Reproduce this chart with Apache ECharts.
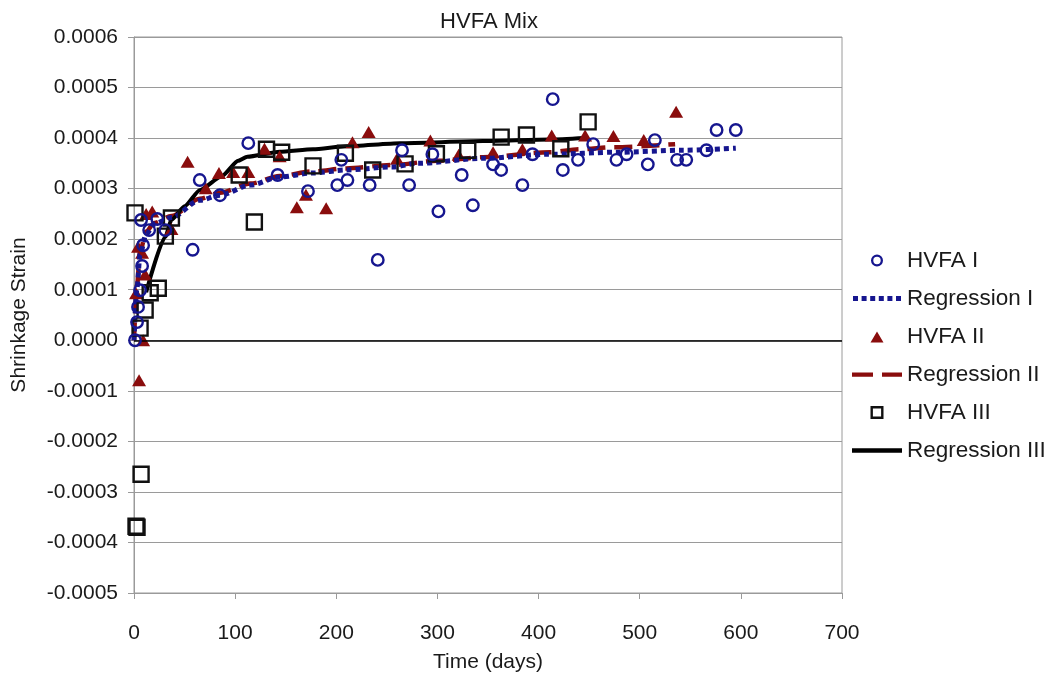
<!DOCTYPE html>
<html><head><meta charset="utf-8">
<script src="https://cdn.jsdelivr.net/npm/echarts@6/dist/echarts.min.js"></script>
<style>html,body{margin:0;padding:0;background:#fff}#c{width:1064px;height:680px}</style>
</head><body><div id="c"></div>
<script>
const chartTitle = 'HVFA Mix';
const xName = 'Time (days)';
const yName = 'Shrinkage Strain';
const seriesNames = ['HVFA I', 'Regression I', 'HVFA II', 'Regression II', 'HVFA III', 'Regression III'];

// [day, strain]
const hvfa1 = [[1,0],[3,0.36e-4],[4,0.66e-4],[6,0.99e-4],[8,1.47e-4],[9,1.88e-4],[7,2.38e-4],[23,2.40e-4],[15,2.18e-4],[31,2.18e-4],
  [58,1.79e-4],[65,3.17e-4],[85,2.87e-4],[113,3.90e-4],[142,3.27e-4],[172,2.95e-4],[201,3.07e-4],[205,3.57e-4],[211,3.17e-4],[233,3.07e-4],
  [241,1.59e-4],[265,3.76e-4],[272,3.07e-4],[295,3.68e-4],[301,2.55e-4],[324,3.27e-4],[335,2.67e-4],[355,3.48e-4],[363,3.37e-4],[384,3.07e-4],
  [394,3.68e-4],[414,4.77e-4],[424,3.37e-4],[439,3.57e-4],[454,3.88e-4],[477,3.57e-4],[487,3.68e-4],[508,3.48e-4],[515,3.96e-4],[537,3.57e-4],
  [546,3.57e-4],[566,3.76e-4],[576,4.16e-4],[595,4.16e-4]];
const reg1 = [[0,0],[3,1.05e-4],[6,1.7e-4],[12,2.1e-4],[20,2.3e-4],[37,2.43e-4],[65,2.77e-4],[85,2.87e-4],[115,3.07e-4],[144,3.23e-4],
  [177,3.31e-4],[210,3.37e-4],[256,3.43e-4],[280,3.5e-4],[345,3.6e-4],[411,3.68e-4],[477,3.72e-4],[543,3.76e-4],[595,3.8e-4]];
const hvfa2 = [[9,0],[5,-0.79e-4],[2,0.93e-4],[4,1.85e-4],[8,1.73e-4],[11,1.3e-4],[12,2.5e-4],[18,2.55e-4],[37,2.2e-4],[53,3.53e-4],
  [71,3.01e-4],[84,3.31e-4],[98,3.33e-4],[113,3.33e-4],[129,3.79e-4],[144,3.64e-4],[161,2.63e-4],[170,2.88e-4],[190,2.61e-4],[216,3.92e-4],
  [232,4.12e-4],[260,3.59e-4],[293,3.95e-4],[321,3.67e-4],[355,3.72e-4],[384,3.78e-4],[413,4.05e-4],[446,4.05e-4],[474,4.04e-4],[504,3.96e-4],[536,4.52e-4]];
const reg2 = [[0,0],[3,1.1e-4],[6,1.75e-4],[12,2.15e-4],[20,2.32e-4],[37,2.46e-4],[65,2.8e-4],[85,2.92e-4],[115,3.1e-4],[144,3.25e-4],
  [177,3.34e-4],[210,3.4e-4],[256,3.47e-4],[300,3.55e-4],[345,3.62e-4],[411,3.72e-4],[441,3.78e-4],[474,3.82e-4],[535,3.88e-4]];
const hvfa3 = [[1,2.52e-4],[2,-3.68e-4],[3,-3.70e-4],[7,-2.65e-4],[6,0.24e-4],[11,0.6e-4],[16,0.94e-4],[24,1.03e-4],[31,2.06e-4],[37,2.42e-4],
  [104,3.27e-4],[119,2.34e-4],[131,3.78e-4],[146,3.72e-4],[177,3.45e-4],[209,3.7e-4],[236,3.37e-4],[268,3.49e-4],[299,3.69e-4],[330,3.76e-4],
  [363,4.02e-4],[388,4.06e-4],[422,3.79e-4],[449,4.32e-4]];
const reg3 = [[12,0.95e-4],[31,2.05e-4],[37,2.38e-4],[50,2.65e-4],[65,2.97e-4],[87,3.25e-4],[103,3.55e-4],[112,3.63e-4],[144,3.73e-4],
  [177,3.78e-4],[210,3.84e-4],[263,3.9e-4],[345,3.94e-4],[411,3.97e-4],[446,4.0e-4]];

const xMin = 0, xMax = 700, xStep = 100;
const yMin = -0.0005, yMax = 0.0006, yStep = 0.0001;

const FONT = '"Liberation Sans", Arial, Helvetica, sans-serif';
const BLUE = '#16168f', RED = '#8a0d0d', BLACK = '#000000', GRID = '#9a9a9a', TXT = '#1a1a1a';

// legend icons (50 x 14 box; tiny corner specks fix the bounding box)
const box = 'M0,0h0.01v0.01h-0.01Z M49.99,13.99h0.01v0.01h-0.01Z ';
const icCircle = 'path://' + box + 'M19,7 A6,6 0 1,1 31,7 A6,6 0 1,1 19,7 Z M21.3,7 A3.7,3.7 0 1,0 28.7,7 A3.7,3.7 0 1,0 21.3,7 Z';
const icDotted = 'path://' + box + 'M1,4.5h5v5h-5Z M9.6,4.5h5v5h-5Z M18.2,4.5h5v5h-5Z M26.8,4.5h5v5h-5Z M35.4,4.5h5v5h-5Z M44,4.5h5v5h-5Z';
const icTri = 'path://' + box + 'M18.5,13 L31.5,13 L25,2 Z';
const icDashed = 'path://' + box + 'M0,5h21v4.2h-21Z M30,5h20v4.2h-20Z';
const icSquare = 'path://' + box + 'M18.5,0.5 h13 v13 h-13 Z M20.9,2.9 v8.2 h8.2 v-8.2 Z';
const icSolid = 'path://' + box + 'M0,4.7h50v4.6h-50Z';
const legIcons = [icCircle, icDotted, icTri, icDashed, icSquare, icSolid];
const legColors = [BLUE, BLUE, RED, RED, '#111', BLACK];

const chart = echarts.init(document.getElementById('c'), null, {renderer: 'canvas'});
chart.setOption({
  animation: false,
  backgroundColor: '#fff',
  textStyle: {fontFamily: FONT},
  title: {text: chartTitle, left: 484, textAlign: 'center', top: 6,
    textStyle: {fontFamily: FONT, fontSize: 22, fontWeight: 'normal', color: TXT}},
  grid: {left: 134, right: 222, top: 37, bottom: 87, show: true, borderColor: GRID, borderWidth: 1, containLabel: false},
  legend: {
    orient: 'vertical', left: 847, top: 244, itemWidth: 50, itemHeight: 14, itemGap: 15,
    selectedMode: false,
    textStyle: {fontFamily: FONT, fontSize: 22.5, color: TXT, lineHeight: 22},
    data: seriesNames.map((n, i) => ({
      name: n, icon: legIcons[i],
      itemStyle: {color: legColors[i], borderWidth: 0, borderColor: 'transparent', opacity: 1}
    }))
  },
  xAxis: {
    type: 'value', min: xMin, max: xMax, interval: xStep,
    name: xName, nameLocation: 'middle', nameGap: 59,
    nameTextStyle: {fontFamily: FONT, fontSize: 21, color: TXT},
    axisLine: {show: true, onZero: false, lineStyle: {color: GRID, width: 1}},
    axisTick: {show: true, inside: false, length: 6, lineStyle: {color: GRID}},
    axisLabel: {fontFamily: FONT, fontSize: 21, color: TXT, margin: 30},
    splitLine: {show: false}
  },
  yAxis: {
    type: 'value', min: yMin, max: yMax, interval: yStep,
    name: yName, nameLocation: 'middle', nameGap: 104, nameRotate: 90,
    nameTextStyle: {fontFamily: FONT, fontSize: 21, color: TXT},
    axisLine: {show: true, lineStyle: {color: GRID, width: 1}},
    axisTick: {show: true, inside: false, length: 6, lineStyle: {color: GRID}},
    axisLabel: {fontFamily: FONT, fontSize: 21, color: TXT, margin: 16,
      formatter: v => (Math.abs(v) < 1e-12 ? 0 : v).toFixed(4)},
    splitLine: {show: true, lineStyle: {color: GRID, width: 1}}
  },
  series: [
    {name: seriesNames[0], type: 'scatter', data: hvfa1, symbol: 'circle', symbolSize: 11.5, z: 5,
      itemStyle: {color: 'rgba(255,255,255,0)', borderColor: BLUE, borderWidth: 2.4, opacity: 1},
      markLine: {silent: true, symbol: ['none', 'none'], label: {show: false},
        lineStyle: {color: BLACK, width: 1.6, type: 'solid'}, data: [{yAxis: 0}]}},
    {name: seriesNames[1], type: 'line', data: reg1, symbol: 'none', smooth: 0.3, smoothMonotone: 'x', z: 4,
      itemStyle: {color: BLUE},
      lineStyle: {color: BLUE, width: 5, type: [5, 4]}},
    {name: seriesNames[2], type: 'scatter', data: hvfa2, symbol: 'triangle', symbolSize: [14, 12], z: 3,
      itemStyle: {color: RED, opacity: 1}},
    {name: seriesNames[3], type: 'line', data: reg2, symbol: 'none', smooth: 0.3, smoothMonotone: 'x', z: 3,
      itemStyle: {color: RED},
      lineStyle: {color: RED, width: 4.5, type: [18, 9]}},
    {name: seriesNames[4], type: 'scatter', data: hvfa3, symbol: 'rect', symbolSize: 15, z: 4,
      itemStyle: {color: 'rgba(255,255,255,0)', borderColor: '#111', borderWidth: 2.4, opacity: 1}},
    {name: seriesNames[5], type: 'line', data: reg3, symbol: 'none', smooth: 0.2, smoothMonotone: 'x', z: 3,
      itemStyle: {color: BLACK},
      lineStyle: {color: BLACK, width: 4}}
  ]
});
</script></body></html>
